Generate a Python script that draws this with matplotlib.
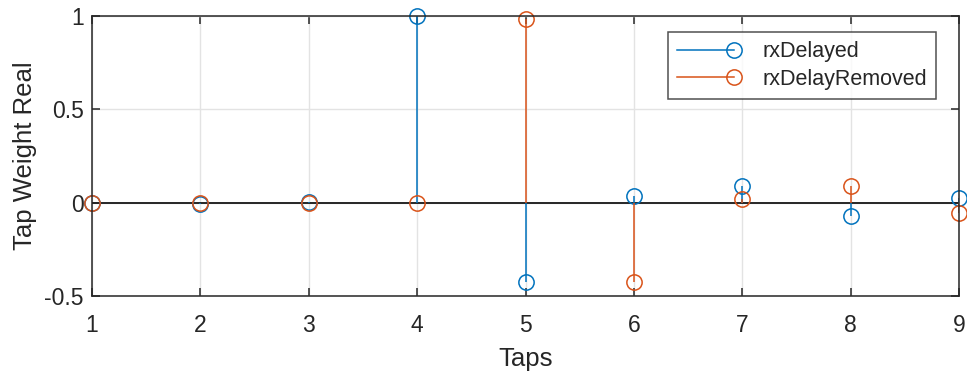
import matplotlib
matplotlib.use("Agg")
import matplotlib.pyplot as plt
from matplotlib.lines import Line2D
from matplotlib.legend_handler import HandlerBase
import numpy as np

taps = [1, 2, 3, 4, 5, 6, 7, 8, 9]
rx_delayed = [0.0, -0.005, 0.005, 1.0, -0.426, 0.034, 0.087, -0.073, 0.027]
rx_delay_removed = [0.0, 0.0, 0.0, 0.0, 0.985, -0.426, 0.02, 0.087, -0.053]
yticks = [-0.5, 0, 0.5, 1]
ytick_labels = ["-0.5", "0", "0.5", "1"]
series_names = ["rxDelayed", "rxDelayRemoved"]

plt.rcParams['font.family'] = ['Liberation Sans', 'DejaVu Sans']

blue = "#0072BD"
orange = "#D95319"
axcol = "#262626"
msize = 11
lw = 1.1


class StemHandler(HandlerBase):
    def create_artists(self, legend, orig_handle, xdescent, ydescent,
                       width, height, fontsize, trans):
        col = orig_handle.get_color()
        y = height / 2 - ydescent
        x0 = -xdescent
        line = Line2D([x0, x0 + width], [y, y], color=col, linewidth=lw)
        mark = Line2D([x0 + width], [y], color=col, marker='o', markersize=msize,
                      markerfacecolor='none', markeredgewidth=lw, linestyle='none')
        line.set_transform(trans)
        mark.set_transform(trans)
        return [line, mark]


fig = plt.figure(figsize=(9.67, 3.74), dpi=100)
ax = fig.add_axes([92/967, 1-296/374, (959-92)/967, (296-16)/374])

handles = []
for vals, col, lab in [(rx_delayed, blue, series_names[0]),
                       (rx_delay_removed, orange, series_names[1])]:
    ml, sl, bl = ax.stem(taps, vals, basefmt=" ")
    plt.setp(sl, color=col, linewidth=lw)
    plt.setp(ml, color=col, marker='o', markersize=msize, markerfacecolor='none',
             markeredgewidth=lw, clip_on=False)
    handles.append(Line2D([], [], color=col, label=lab))

ax.axhline(0, color=axcol, linewidth=1.4, zorder=1.5)

ax.set_xlim(1, 9)
ax.set_ylim(-0.5, 1)
ax.set_xticks(taps)
ax.set_yticks(yticks)
ax.set_yticklabels(ytick_labels)
ax.grid(True, color="#e3e3e3", linewidth=1)
ax.set_axisbelow(True)
ax.tick_params(direction='in', top=True, right=True, length=6, width=1.1,
               colors=axcol, labelsize=16.5, labelcolor=axcol)
ax.tick_params(axis='x', pad=13)
ax.tick_params(axis='y', pad=6)
for s in ax.spines.values():
    s.set_color(axcol)
    s.set_linewidth(1.1)

ax.set_xlabel("Taps", fontsize=18.5, color=axcol, labelpad=7)
ax.set_ylabel("Tap Weight Real", fontsize=18.5, color=axcol, labelpad=5)

leg = ax.legend(handles=handles, loc='upper right', bbox_to_anchor=(936/967, 1-32/374),
                bbox_transform=fig.transFigure, borderaxespad=0, fontsize=15.5,
                frameon=True, fancybox=False, handlelength=2.65, borderpad=0.42,
                labelspacing=0.32, handletextpad=1.3,
                handler_map={Line2D: StemHandler()})
leg.get_frame().set_edgecolor(axcol)
leg.get_frame().set_linewidth(1.1)
for t in leg.get_texts():
    t.set_color(axcol)

fig.savefig("out.png", dpi=100)
